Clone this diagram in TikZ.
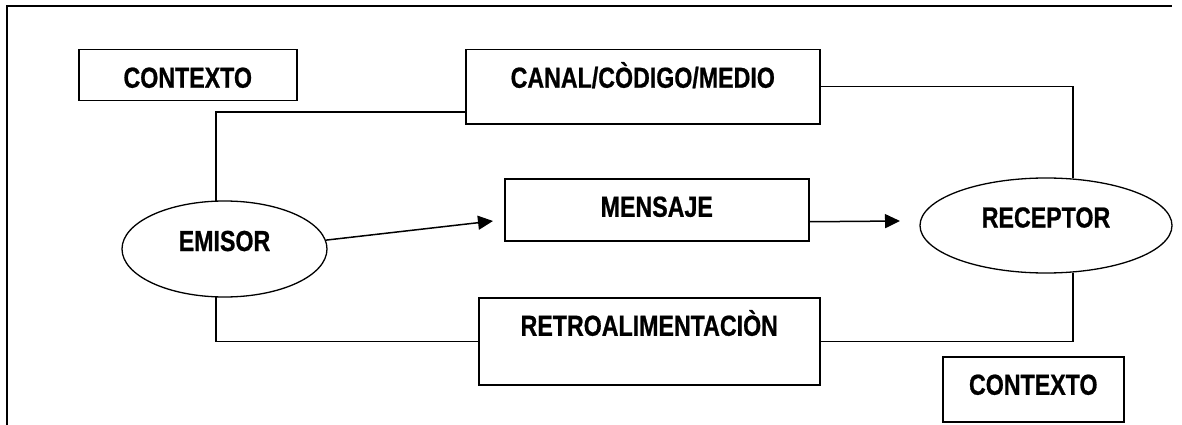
\documentclass[tikz,border=0pt]{standalone}
\usepackage{fontspec}
\setmainfont{Liberation Sans}[FakeStretch=0.8,BoldFeatures={FakeBold=0.7}]
\usetikzlibrary{shapes.geometric,arrows.meta}
\begin{document}
\begin{tikzpicture}[x=1pt,y=-1pt,
  every node/.style={font=\fontsize{29}{30}\selectfont\bfseries},
  box/.style={draw,line width=1.5pt,rectangle,inner sep=0pt,anchor=north west,align=center},
  oval/.style={draw,line width=1.3pt,ellipse,inner sep=0pt,text height=20pt,text depth=16pt},
  link/.style={line width=1.5pt},
  arr/.style={line width=1.5pt,-{Triangle[length=15pt,width=14pt]}}]
\useasboundingbox (0,0) rectangle (1182,425);
\draw[line width=1.7pt] (7,425) -- (7,6) -- (1172,6);
% boxes
\node[box,minimum width=218pt,text height=38pt,text depth=13pt] (ctx1) at (78,49) {CONTEXTO};
\node[box,minimum width=354pt,text height=38pt,text depth=36pt] (canal) at (465,49) {CANAL/CÒDIGO/MEDIO};
\node[box,minimum width=304pt,text height=38pt,text depth=24pt] (mensaje) at (504,178) {MENSAJE};
\node[box,minimum width=341pt,text height=38pt,text depth=49pt] (retro) at (478,297) {RETROALIMENTACIÒN};
\node[box,minimum width=181pt,text height=38pt,text depth=27pt] (ctx2) at (942,356) {CONTEXTO};
% ellipses
\node[oval,minimum width=205pt,minimum height=96pt] (emisor) at (224.5,249) {EMISOR};
\node[oval,minimum width=252pt,minimum height=95pt] (receptor) at (1046,225.5) {RECEPTOR};
% connector end points
\coordinate (c1) at (465,112);
\coordinate (m1) at (493,221);
\coordinate (r1) at (900,221);
% connectors
\draw[link] (emisor.100) |- (c1);
\draw[link] (emisor.-100) |- (retro.west);
\draw[link] (canal.east) -| (receptor.60);
\draw[link] (receptor.-60) |- (retro.east);
\draw[arr] (emisor.5) -- (m1);
\draw[arr] ([yshift=-12pt]mensaje.east) -- (r1);
\end{tikzpicture}
\end{document}
